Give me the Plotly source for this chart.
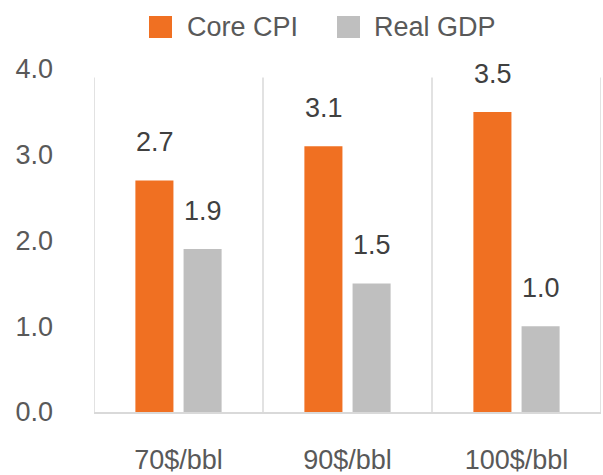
import plotly.graph_objects as go

categories = ["70$/bbl", "90$/bbl", "100$/bbl"]
core_cpi = [2.7, 3.1, 3.5]
real_gdp = [1.9, 1.5, 1.0]
series_names = ["Core CPI", "Real GDP"]
y_ticks = [0, 1, 2, 3, 4]

ORANGE = "#F07022"
GRAY = "#BFBFBF"
TEXT = "#404040"
TICK = "#595959"
LINE = "#D9D9D9"
FONT = "Liberation Sans, Arial, Helvetica, sans-serif"

W, H = 603, 475
L, R, T, B = 94, 2, 69, 63
PW, PH = W - L - R, H - T - B


def px(x):
    return (x - L) / PW


def py(y):
    return (H - B - y) / PH


fig = go.Figure()
fig.add_trace(go.Bar(x=categories, y=core_cpi, name=series_names[0], marker_color=ORANGE,
                     marker_line_width=0))
fig.add_trace(go.Bar(x=categories, y=real_gdp, name=series_names[1], marker_color=GRAY,
                     marker_line_width=0))

# data labels placed above bars
for i, cat in enumerate(categories):
    for vals, shift in ((core_cpi, -24), (real_gdp, 24)):
        fig.add_annotation(x=cat, y=vals[i], text=f"{vals[i]:.1f}", showarrow=False,
                           xshift=shift, yshift=38, font=dict(size=27, color=TEXT, family=FONT))

# category separators
for k in range(len(categories) + 1):
    fig.add_shape(type="line", xref="x", yref="y", x0=k - 0.5, x1=k - 0.5, y0=0, y1=3.9,
                  line=dict(color=LINE, width=1.5), layer="below")

# custom legend (large square swatches)
legend_items = [(series_names[0], ORANGE, 149, 185), (series_names[1], GRAY, 337, 372)]
for name, color, sx, tx in legend_items:
    fig.add_shape(type="rect", xref="paper", yref="paper",
                  x0=px(sx), x1=px(sx + 23), y0=py(38), y1=py(16),
                  fillcolor=color, line_width=0)
    fig.add_annotation(xref="paper", yref="paper", x=px(tx), y=py(27), text=name,
                       showarrow=False, xanchor="left", yanchor="middle",
                       font=dict(size=27, color=TICK, family=FONT))

fig.update_layout(
    width=W, height=H,
    margin=dict(l=L, r=R, t=T, b=B),
    paper_bgcolor="white", plot_bgcolor="white",
    barmode="group", bargap=0.43, bargroupgap=0.21,
    showlegend=False,
    font=dict(family=FONT, color=TICK, size=27),
    xaxis=dict(showgrid=False, showline=True, linecolor=LINE, linewidth=1.5,
               ticks="", ticklabelstandoff=23, tickfont=dict(size=27, color=TICK),
               range=[-0.5, 2.5], automargin=False),
    yaxis=dict(range=[0, 4], tickvals=y_ticks, tickformat=".1f", showgrid=False,
               zeroline=False, showline=False, ticks="", ticklabelstandoff=40,
               tickfont=dict(size=27, color=TICK), automargin=False),
)

fig.write_html("out.html", config={"displayModeBar": False},
               post_script="document.body.style.margin='0';")
